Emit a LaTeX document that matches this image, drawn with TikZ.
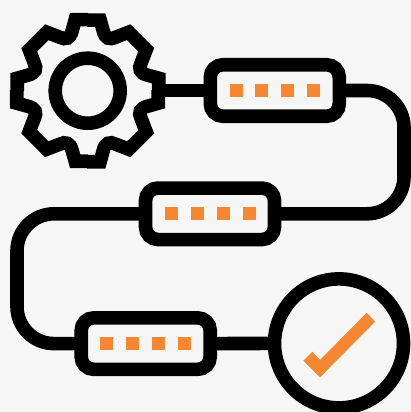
\documentclass[tikz,border=0pt]{standalone}
\definecolor{paper}{HTML}{F6F6F6}
\definecolor{accent}{HTML}{F58733}
\tikzset{
  wire/.style={line width=13.6pt,draw=black,line join=round},
  pill/.style={draw=black,line width=13.6pt,rounded corners=12.5pt,minimum width=129pt,minimum height=51.5pt,inner sep=0pt,outer sep=0pt},
  ring/.style={circle,draw=black,line width=13.6pt,inner sep=0pt,outer sep=0pt},
  dot/.style={fill=accent,draw=none,minimum size=13.4pt,inner sep=0pt,outer sep=0pt},
}
\begin{document}
\begin{tikzpicture}[x=1pt,y=-1pt]
\useasboundingbox (0,0) rectangle (411,412);
\fill[paper] (0,0) rectangle (411,412);
% gear
\foreach \a in {0,90,180,270}
\draw[line width=13.6pt,line join=miter,miter limit=4,shift={(87.7,90.7)},rotate=\a]
  (-0.5,-70.5) -- (12.5,-70.5) -- (15.5,-60) .. controls (17.5,-52) and (22,-50.5) .. (28,-53.5)
  -- (41,-58.5) -- (58.5,-41) -- (53.5,-28) .. controls (50.5,-22) and (52,-17.5) .. (60,-15.5)
  -- (71,-12.5) -- (71,0.5);
\node[ring,minimum size=65pt] (hub) at (87.7,90.7) {};
\coordinate (gearedge) at (159,90.5);
% boxes
\node[pill] (b1) at (274.8,90.5) {};
\node[pill] (b2) at (210,213.8) {};
\node[pill] (b3) at (145.7,343.6) {};
\node[ring,minimum size=129pt] (done) at (339,343.4) {};
% connectors
\coordinate (cr) at (404,90.5);
\coordinate (crb) at (404,213.8);
\coordinate (cl) at (17,213.8);
\coordinate (clb) at (17,343.6);
\draw[wire] (gearedge) -- (b1.west);
\draw[wire,rounded corners=37pt] (b1.east) -- (cr) -- (crb) -- (b2.east);
\draw[wire,rounded corners=37pt] (b2.west) -- (cl) -- (clb) -- (b3.west);
\draw[wire] (b3.east) -- (done.west);
% dots
\foreach \n/\x/\y in {a/236.5/90.5,b/261.5/90.5,c/287.5/90.5,d/313.5/90.5,
                      e/171.5/213.5,f/197.5/213.5,g/223.5/213.5,h/249.5/213.5,
                      i/106.5/343.5,j/132.5/343.5,k/158.5/343.5,l/184.5/343.5}
  \node[dot] (\n) at (\x,\y) {};
% check
\fill[accent] (366.7,312.7) -- (375,321.7) -- (320,377.3) -- (303.3,360.7) -- (312.3,351.7) -- (320,360) -- cycle;
\end{tikzpicture}
\end{document}
